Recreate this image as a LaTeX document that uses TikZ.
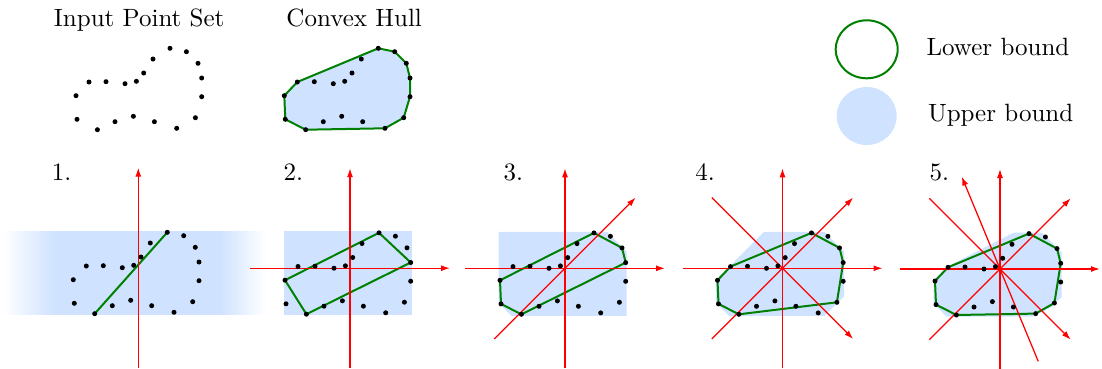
\documentclass[tikz,border=0pt]{standalone}
\usepackage{amsmath, amssymb}
\usepackage{tikz}
\usetikzlibrary{calc, arrows.meta}

\definecolor{ubblue}{RGB}{207,226,255}
\definecolor{lbgreen}{RGB}{0,128,0}

\newcommand{\pointset}{%
  \foreach \px/\py [count=\i] in {29.0/-35.4, 45.4/-32.0, 57.0/-20.4, 60.7/-5.7,
    60.7/13.0, 54.4/34.0, 35.7/44.6, 13.4/38.0, -7.6/32.6, -26.0/38.0,
    -43.6/46.0, -64.0/35.6, -65.0/12.0, -52.0/-1.7, -35.0/-2.0, -16.0/0,
    -4.6/-2.4, 2.7/-10.7, 12.0/-24.7}{\coordinate (p\i) at (\px,\py);}}
\newcommand{\drawpoints}{\foreach \i in {1,...,19}{\fill[dot] (p\i) circle (1pt);}}

\begin{document}
\begin{tikzpicture}[x=0.4pt, y=-0.4pt,
    ubound/.style={fill=ubblue},
    lbound/.style={draw=lbgreen, line width=0.8pt, line join=round},
    dir/.style={draw=red, line width=0.5pt},
    dirarrow/.style={dir, -{Latex[length=3.6pt, width=2.4pt]}},
    dot/.style={fill=black},
    lbl/.style={anchor=base, inner sep=0pt}]

    \useasboundingbox (0,0) rectangle (1102,368);

    \node[lbl] (settitle) at (139.2,26.7) {Input Point Set};
    \node[lbl] (hulltitle) at (354.2,26.7) {Convex Hull};

    \begin{scope}[shift={(141,83.7)}]
        \pointset
        \drawpoints
    \end{scope}

    \begin{scope}[shift={(349.3,83.7)}]
        \pointset
        \filldraw[ubound, lbound] (p1) -- (p2) -- (p3) -- (p4) -- (p5) -- (p6) -- (p7)
            -- (p11) -- (p12) -- (p13) -- (p14) -- cycle;
        \drawpoints
    \end{scope}

    \draw[lbound] (866.7,49.3) ellipse [x radius=31, y radius=29];
    \fill[ubound] (866.7,116) ellipse [x radius=30, y radius=29];
    \node[lbl, anchor=base west] (lowerlbl) at (926,55) {Lower bound};
    \node[lbl, anchor=base west] (upperlbl) at (927.5,121.7) {Upper bound};

    \foreach \x/\n in {61.7/1, 293.3/2, 513.3/3, 705/4, 939.3/5}
        \node[lbl] (step\n) at (\x,180.7) {\n.};

    \fill[ubound] (54,231.2) rectangle (220.5,315.2);
    \foreach \k in {1,...,17}{
        \pgfmathtruncatemacro{\pc}{(\k-0.5)*100/17}
        \fill[ubblue!\pc!white] ({4+3*(\k-1)},231.2) rectangle ({4+3*\k+0.4},315.2);
    }
    \foreach \k in {1,...,15}{
        \pgfmathtruncatemacro{\pc}{100-(\k-0.5)*100/15}
        \fill[ubblue!\pc!white] ({220+3.1*(\k-1)},231.2) rectangle ({220+3.1*\k+0.4},315.2);
    }

    \begin{scope}[shift={(138.3,267.7)}]
        \pointset
        \draw[lbound] (p1) -- (p11);
        \draw[dirarrow] (0,100) -- (0,-100);
        \drawpoints
    \end{scope}

    \begin{scope}[shift={(350,268.2)}]
        \pointset
        \fill[ubound] (-66.5,-37) rectangle (61.7,47);
        \draw[lbound] (p1) -- (p4) -- (p11) -- (p13) -- cycle;
        \draw[dirarrow] (0,100) -- (0,-100);
        \draw[dirarrow] (-100,0) -- (100,0);
        \drawpoints
    \end{scope}

    \begin{scope}[shift={(565,268.3)}]
        \pointset
        \fill[ubound] (-66.5,-36.5) -- (42,-36.5) -- (61.7,-16.8) -- (61.7,47.5)
            -- (-53.5,47.5) -- (-66.5,34.5) -- cycle;
        \draw[lbound] (p1) -- (p3) -- (p4) -- (p11) -- (p12) -- (p13) -- cycle;
        \draw[dirarrow] (0,100) -- (0,-100);
        \draw[dirarrow] (-100,0) -- (100,0);
        \draw[dirarrow] (135:100) -- (-45:100);
        \drawpoints
    \end{scope}

    \begin{scope}[shift={(782.5,268.3)}]
        \pointset
        \fill[ubound] (-18.5,-36.5) -- (42,-36.5) -- (61.7,-16.8) -- (61.7,27.8)
            -- (42,47.5) -- (-53.5,47.5) -- (-66.5,34.5) -- (-66.5,11.5) -- cycle;
        \draw[lbound] (p1) -- (p3) -- (p4) -- (p6) -- (p11) -- (p12) -- (p13) -- (p14) -- cycle;
        \draw[dirarrow] (0,100) -- (0,-100);
        \draw[dirarrow] (-100,0) -- (100,0);
        \draw[dirarrow] (135:100) -- (-45:100);
        \draw[dirarrow] (-135:100) -- (45:100);
        \drawpoints
    \end{scope}

    \begin{scope}[shift={(1000,269)}]
        \pointset
        \fill[ubound] (-52.5,-2.5) -- (14,-36.5) -- (42,-36.5) -- (61.7,-16.8) -- (61.7,27.8)
            -- (51.7,37.8) -- (32.8,47.5) -- (-53.5,47.5) -- (-66.5,34.5) -- (-66.5,11.5) -- cycle;
        \draw[lbound] (p1) -- (p3) -- (p4) -- (p6) -- (p7) -- (p11) -- (p12) -- (p13) -- (p14) -- cycle;
        \draw[dirarrow] (0,100) -- (0,-100);
        \draw[dirarrow] (-100,0) -- (100,0);
        \draw[dirarrow] (135:100) -- (-45:100);
        \draw[dirarrow] (-135:100) -- (45:100);
        \draw[dirarrow] (67.5:100) -- (-112.5:100);
        \drawpoints
    \end{scope}
\end{tikzpicture}
\end{document}
